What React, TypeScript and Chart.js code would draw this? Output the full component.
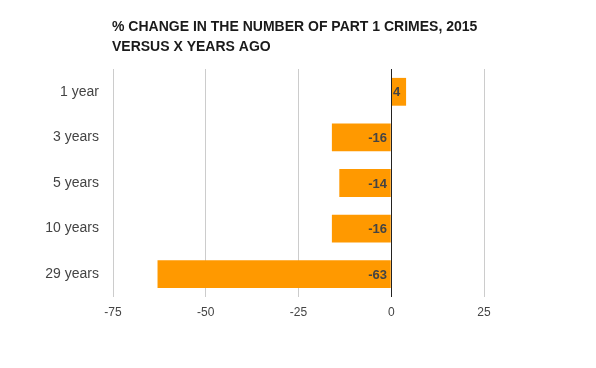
import React, { useEffect, useRef } from "react";
import { Chart, registerables } from "chart.js";

Chart.register(...registerables);

const categories = ["1 year", "3 years", "5 years", "10 years", "29 years"];
const changeValues = [4, -16, -14, -16, -63];
const titleLines = ["% CHANGE IN THE NUMBER OF PART 1 CRIMES, 2015", "VERSUS X YEARS AGO"];
const xMin = -75;
const xMax = 25;

const overlayPlugin = {
  id: "overlay",
  afterDraw(chart: any) {
    const ctx = chart.ctx;
    ctx.save();
    // title
    ctx.fillStyle = "#1a1a1a";
    ctx.font = "bold 14px Arial, 'Liberation Sans', sans-serif";
    ctx.textAlign = "left";
    ctx.textBaseline = "alphabetic";
    ctx.fillText(titleLines[0], 112, 31);
    ctx.fillText(titleLines[1], 112, 50.5);
    // zero line
    const xs = chart.scales.x;
    const area = chart.chartArea;
    const zx = Math.round(xs.getPixelForValue(0)) + 0.5;
    ctx.strokeStyle = "#222";
    ctx.lineWidth = 1;
    ctx.beginPath();
    ctx.moveTo(zx, area.top);
    ctx.lineTo(zx, area.bottom);
    ctx.stroke();
    // value labels
    const meta = chart.getDatasetMeta(0);
    ctx.font = "bold 13px Arial, 'Liberation Sans', sans-serif";
    ctx.fillStyle = "#444";
    ctx.textBaseline = "middle";
    meta.data.forEach((bar: any, i: number) => {
      const v = changeValues[i];
      if (v < 0) {
        ctx.textAlign = "right";
        ctx.fillText(String(v), zx - 4.5, bar.y + 1);
      } else {
        ctx.textAlign = "left";
        ctx.fillText(String(v), zx + 1.5, bar.y + 1);
      }
    });
    ctx.restore();
  },
};

export default function App() {
  const ref = useRef<HTMLCanvasElement>(null);
  useEffect(() => {
    if (!ref.current) return;
    const chart = new Chart(ref.current, {
      type: "bar",
      data: {
        labels: categories,
        datasets: [
          {
            data: changeValues,
            backgroundColor: "#FF9900",
            borderWidth: 0,
            barPercentage: 0.61,
            categoryPercentage: 1,
          },
        ],
      },
      options: {
        indexAxis: "y",
        animation: false,
        responsive: false,
        maintainAspectRatio: false,
        layout: { padding: { top: 69, left: 0, right: 112, bottom: 0 } },
        plugins: {
          legend: { display: false },
          title: { display: false },
          tooltip: { enabled: false },
        },
        scales: {
          x: {
            min: xMin,
            max: xMax,
            ticks: {
              stepSize: 25,
              color: "#444",
              font: { family: "Arial, 'Liberation Sans', sans-serif", size: 12 },
              padding: 8,
            },
            grid: { color: "#cccccc", drawTicks: false },
            border: { display: false },
            afterFit(scale: any) {
              scale.height = 71;
            },
          },
          y: {
            ticks: {
              color: "#444",
              font: { family: "Arial, 'Liberation Sans', sans-serif", size: 14 },
              padding: 14,
            },
            grid: { display: false, drawTicks: false },
            border: { display: false },
            afterFit(scale: any) {
              scale.width = 113;
            },
          },
        },
      },
      plugins: [overlayPlugin],
    });
    return () => chart.destroy();
  }, []);
  return (
    <div style={{ position: "fixed", left: 0, top: 0, width: 596, height: 368, background: "#fff" }}>
      <canvas ref={ref} width={596} height={368} style={{ width: 596, height: 368 }} />
    </div>
  );
}
